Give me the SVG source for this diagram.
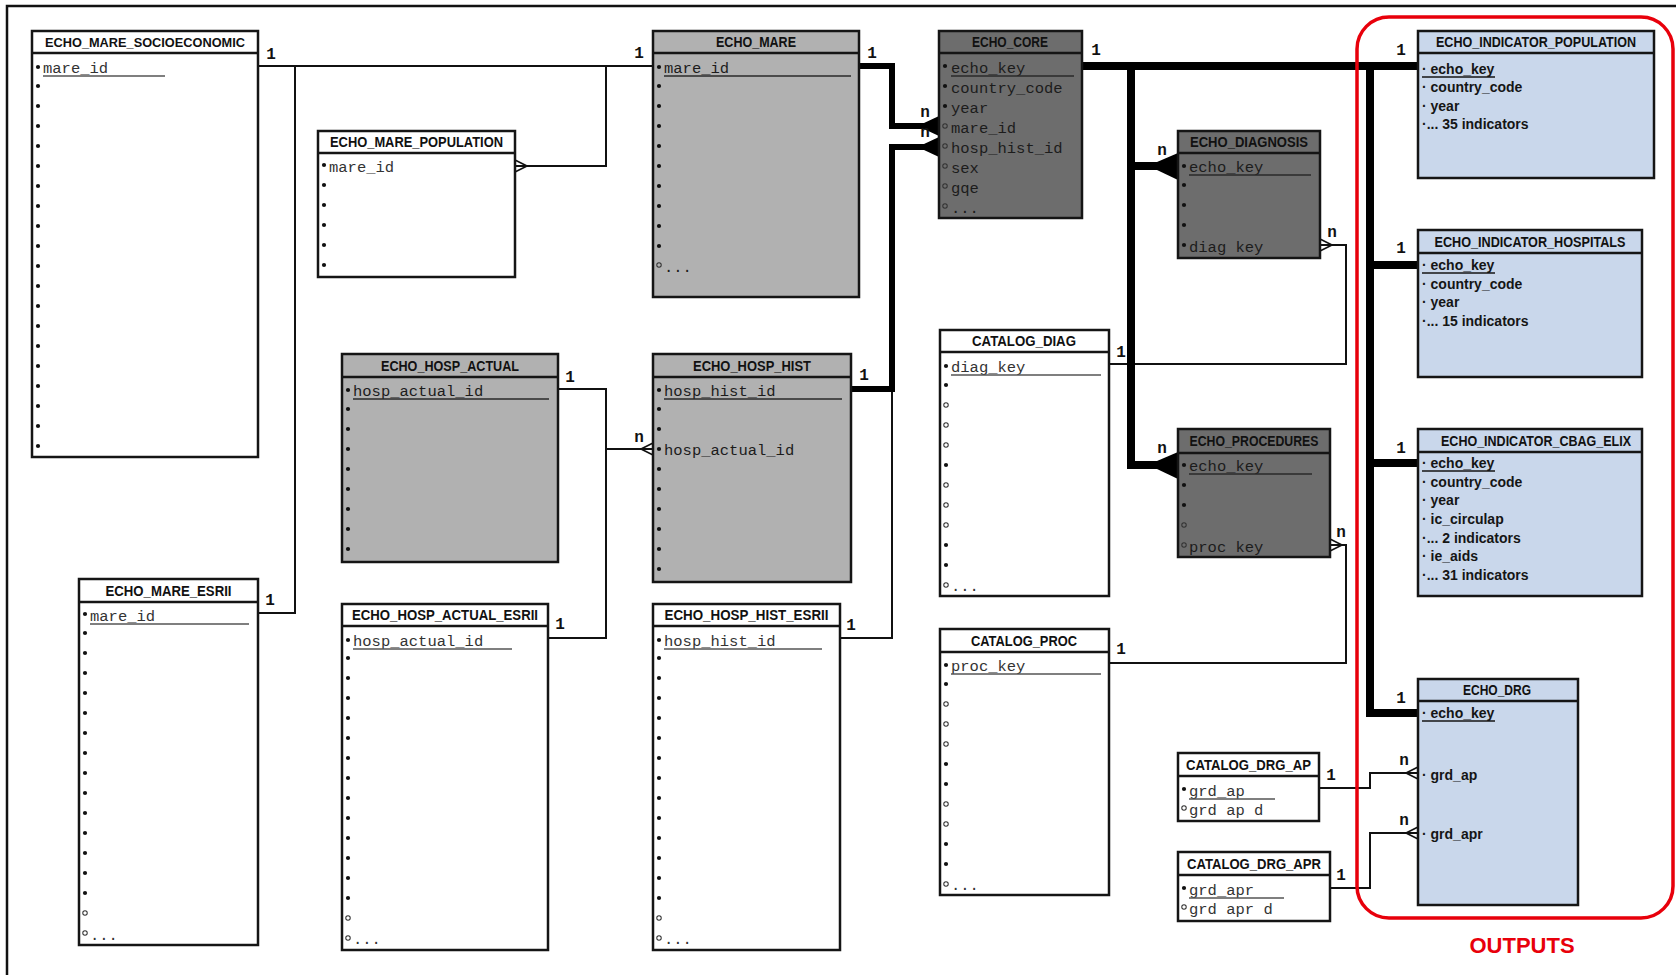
<svg xmlns="http://www.w3.org/2000/svg" xmlns:xlink="http://www.w3.org/1999/xlink" width="1676" height="975" viewBox="0 0 1676 975">
<style>
.box{stroke:#151515;stroke-width:2.5}
.w{fill:#fff}.g{fill:#b1b1b1}.d{fill:#6d6d6d}.b{fill:#c9d7eb}
.hl{stroke:#151515;stroke-width:2.5}
.hd{font-family:"Liberation Sans",Arial,sans-serif;font-weight:bold;font-size:14.5px;fill:#111;text-anchor:middle}
.f{font-family:"Liberation Mono","Courier New",monospace;font-size:15.5px;fill:#333}
.fd{font-family:"Liberation Mono","Courier New",monospace;font-size:15.5px;fill:#1c1c1c}
.bf{font-family:"Liberation Sans",Arial,sans-serif;font-weight:bold;font-size:14px;fill:#151515}
.ul{stroke:#555;stroke-width:1.3}
.uld{stroke:#2a2a2a;stroke-width:1.3}
.ulb{stroke:#151515;stroke-width:1.3}
.lbl{font-family:"Liberation Mono","Courier New",monospace;font-weight:bold;font-size:16px;fill:#111;text-anchor:middle}
.thin{stroke:#111;stroke-width:2;fill:none}
.thick{stroke:#000;stroke-width:6;fill:none}
.xthick{stroke:#000;stroke-width:8;fill:none}
.foot{fill:#000}
.ofoot{stroke:#111;stroke-width:1.6;fill:none}
</style>
<defs>
<circle id="dt" r="2.1" fill="#111"/>
<circle id="oc" r="2.2" fill="none" stroke="#333" stroke-width="1.1"/>
</defs>
<rect width="1676" height="975" fill="#fff"/>
<path d="M7,975 V6 H1676" fill="none" stroke="#111" stroke-width="2.5"/>

<g id="connectors">
<path class="thin" d="M258,66 H653"/>
<path class="thin" d="M295,66 V613 H258"/>
<path class="thin" d="M515,166 H606 V66"/>
<path class="thin" d="M558,389 H606 V638 H548"/>
<path class="thin" d="M606,449 H653"/>
<path class="thin" d="M840,638 H892 V389"/>
<path class="thin" d="M1320,245 H1346 V364 H1109"/>
<path class="thin" d="M1330,545 H1346 V663 H1109"/>
<path class="thin" d="M1319,788 H1370 V773 H1418"/>
<path class="thin" d="M1330,888 H1370 V833 H1418"/>
<path class="thick" d="M859,66 H892 V126 H930"/>
<path class="thick" d="M851,389 H892 V147 H930"/>
<path class="xthick" d="M1082,66 H1418"/>
<path class="xthick" d="M1131,66 V465 H1160"/>
<path class="xthick" d="M1131,166 H1160"/>
<path class="xthick" d="M1370,66 V713 H1418"/>
<path class="xthick" d="M1370,265 H1418"/>
<path class="xthick" d="M1370,463 H1418"/>
<polygon class="foot" points="924,123 939,116 939,136 924,129"/>
<polygon class="foot" points="924,144 939,137 939,157 924,150"/>
<polygon class="foot" points="1157,162 1178,153 1178,180 1157,170"/>
<polygon class="foot" points="1157,461 1178,452 1178,479 1157,469"/>
<path class="ofoot" d="M527,166 L515,160 M527,166 L515,172"/>
<path class="ofoot" d="M641,449 L653,443 M641,449 L653,455"/>
<path class="ofoot" d="M1332,245 L1320,239 M1332,245 L1320,251"/>
<path class="ofoot" d="M1342,545 L1330,539 M1342,545 L1330,551"/>
<path class="ofoot" d="M1406,773 L1418,767 M1406,773 L1418,779"/>
<path class="ofoot" d="M1406,833 L1418,827 M1406,833 L1418,839"/>
<g id="cardinalities">
<text class="lbl" x="271" y="59">1</text>
<text class="lbl" x="639" y="58">1</text>
<text class="lbl" x="872" y="58">1</text>
<text class="lbl" x="1096" y="55">1</text>
<text class="lbl" x="270" y="605">1</text>
<text class="lbl" x="570" y="382">1</text>
<text class="lbl" x="864" y="380">1</text>
<text class="lbl" x="560" y="629">1</text>
<text class="lbl" x="851" y="630">1</text>
<text class="lbl" x="1121" y="357">1</text>
<text class="lbl" x="1121" y="654">1</text>
<text class="lbl" x="1331" y="780">1</text>
<text class="lbl" x="1341" y="880">1</text>
<text class="lbl" x="1401" y="55">1</text>
<text class="lbl" x="1401" y="253">1</text>
<text class="lbl" x="1401" y="453">1</text>
<text class="lbl" x="1401" y="703">1</text>
<text class="lbl" x="925" y="117">n</text>
<text class="lbl" x="925" y="137">n</text>
<text class="lbl" x="1162" y="155">n</text>
<text class="lbl" x="1162" y="453">n</text>
<text class="lbl" x="1332" y="237">n</text>
<text class="lbl" x="1341" y="537">n</text>
<text class="lbl" x="639" y="442">n</text>
<text class="lbl" x="1404" y="765">n</text>
<text class="lbl" x="1404" y="825">n</text>
</g>
</g>

<g id="echo_mare_socioeconomic">
<rect class="box w" x="32" y="31" width="226" height="426"/>
<line class="hl" x1="32" y1="53" x2="258" y2="53"/>
<text class="hd" x="145" y="47" style="font-size:13px" textLength="200" lengthAdjust="spacingAndGlyphs">ECHO_MARE_SOCIOECONOMIC</text>
<use href="#dt" x="38" y="67"/><text class="f" x="43" y="73">mare_id</text><line class="ul" x1="43" y1="76" x2="165" y2="76"/>
<g transform="translate(38,0)"><use href="#dt" y="86"/><use href="#dt" y="106"/><use href="#dt" y="126"/><use href="#dt" y="146"/><use href="#dt" y="166"/><use href="#dt" y="186"/><use href="#dt" y="206"/><use href="#dt" y="226"/><use href="#dt" y="246"/><use href="#dt" y="266"/><use href="#dt" y="286"/><use href="#dt" y="306"/><use href="#dt" y="326"/><use href="#dt" y="346"/><use href="#dt" y="366"/><use href="#dt" y="386"/><use href="#dt" y="406"/><use href="#dt" y="426"/><use href="#dt" y="446"/></g>
</g>

<g id="echo_mare_population">
<rect class="box w" x="318" y="131" width="197" height="146"/>
<line class="hl" x1="318" y1="153" x2="515" y2="153"/>
<text class="hd" x="416.5" y="147" textLength="173" lengthAdjust="spacingAndGlyphs">ECHO_MARE_POPULATION</text>
<use href="#dt" x="324" y="165"/><text class="f" x="329" y="172">mare_id</text>
<g transform="translate(324,0)"><use href="#dt" y="185"/><use href="#dt" y="205"/><use href="#dt" y="225"/><use href="#dt" y="245"/><use href="#dt" y="265"/></g>
</g>

<g id="echo_mare">
<rect class="box g" x="653" y="31" width="206" height="266"/>
<line class="hl" x1="653" y1="53" x2="859" y2="53"/>
<text class="hd" x="756" y="47" textLength="80" lengthAdjust="spacingAndGlyphs">ECHO_MARE</text>
<use href="#dt" x="659" y="67"/><text class="fd" x="664" y="73">mare_id</text><line class="uld" x1="664" y1="76" x2="851" y2="76"/>
<g transform="translate(659,0)"><use href="#dt" y="86"/><use href="#dt" y="106"/><use href="#dt" y="126"/><use href="#dt" y="146"/><use href="#dt" y="166"/><use href="#dt" y="186"/><use href="#dt" y="206"/><use href="#dt" y="226"/><use href="#dt" y="246"/><use href="#oc" y="265"/></g>
<text class="fd" x="664" y="272">...</text>
</g>

<g id="echo_core">
<rect class="box d" x="939" y="31" width="143" height="187"/>
<line class="hl" x1="939" y1="53" x2="1082" y2="53"/>
<text class="hd" x="1010" y="47" textLength="76" lengthAdjust="spacingAndGlyphs">ECHO_CORE</text>
<g transform="translate(945,0)"><use href="#dt" y="66"/><use href="#dt" y="86"/><use href="#dt" y="106"/><use href="#oc" y="126"/><use href="#oc" y="146"/><use href="#oc" y="166"/><use href="#oc" y="186"/><use href="#oc" y="206"/></g>
<text class="fd" x="951" y="73">echo_key</text><line class="uld" x1="951" y1="76" x2="1074" y2="76"/>
<text class="fd" x="951" y="93">country_code</text>
<text class="fd" x="951" y="113">year</text>
<text class="fd" x="951" y="133">mare_id</text>
<text class="fd" x="951" y="153">hosp_hist_id</text>
<text class="fd" x="951" y="173">sex</text>
<text class="fd" x="951" y="193">gqe</text>
<text class="fd" x="951" y="213">...</text>
</g>

<g id="echo_diagnosis">
<rect class="box d" x="1178" y="131" width="142" height="127"/>
<line class="hl" x1="1178" y1="153" x2="1320" y2="153"/>
<text class="hd" x="1249" y="147" textLength="118" lengthAdjust="spacingAndGlyphs">ECHO_DIAGNOSIS</text>
<g transform="translate(1184,0)"><use href="#dt" y="166"/><use href="#dt" y="185"/><use href="#dt" y="205"/><use href="#dt" y="225"/><use href="#dt" y="245"/></g>
<text class="fd" x="1189" y="172">echo_key</text><line class="uld" x1="1189" y1="175" x2="1311" y2="175"/>
<text class="fd" x="1189" y="252">diag key</text>
</g>

<g id="echo_procedures">
<rect class="box d" x="1178" y="429" width="152" height="128"/>
<line class="hl" x1="1178" y1="453" x2="1330" y2="453"/>
<text class="hd" x="1254" y="446" textLength="129" lengthAdjust="spacingAndGlyphs">ECHO_PROCEDURES</text>
<g transform="translate(1184,0)"><use href="#dt" y="465"/><use href="#dt" y="485"/><use href="#dt" y="505"/><use href="#oc" y="525"/><use href="#oc" y="545"/></g>
<text class="fd" x="1189" y="471">echo_key</text><line class="uld" x1="1189" y1="474" x2="1312" y2="474"/>
<text class="fd" x="1189" y="552">proc key</text>
</g>

<g id="catalog_diag">
<rect class="box w" x="940" y="330" width="169" height="266"/>
<line class="hl" x1="940" y1="352" x2="1109" y2="352"/>
<text class="hd" x="1024" y="346" textLength="104" lengthAdjust="spacingAndGlyphs">CATALOG_DIAG</text>
<g transform="translate(946,0)"><use href="#dt" y="366"/><use href="#dt" y="385"/><use href="#oc" y="405"/><use href="#oc" y="425"/><use href="#oc" y="445"/><use href="#dt" y="465"/><use href="#oc" y="485"/><use href="#oc" y="505"/><use href="#oc" y="525"/><use href="#dt" y="545"/><use href="#dt" y="565"/><use href="#oc" y="585"/></g>
<text class="f" x="951" y="372">diag_key</text><line class="ul" x1="951" y1="375" x2="1101" y2="375"/>
<text class="f" x="951" y="591">...</text>
</g>

<g id="catalog_proc">
<rect class="box w" x="940" y="629" width="169" height="266"/>
<line class="hl" x1="940" y1="652" x2="1109" y2="652"/>
<text class="hd" x="1024" y="646" textLength="106" lengthAdjust="spacingAndGlyphs">CATALOG_PROC</text>
<g transform="translate(946,0)"><use href="#dt" y="665"/><use href="#dt" y="684"/><use href="#oc" y="704"/><use href="#oc" y="724"/><use href="#oc" y="744"/><use href="#dt" y="764"/><use href="#dt" y="784"/><use href="#oc" y="804"/><use href="#oc" y="824"/><use href="#dt" y="844"/><use href="#dt" y="864"/><use href="#oc" y="884"/></g>
<text class="f" x="951" y="671">proc_key</text><line class="ul" x1="951" y1="674" x2="1101" y2="674"/>
<text class="f" x="951" y="890">...</text>
</g>

<g id="catalog_drg_ap">
<rect class="box w" x="1178" y="753" width="141" height="68"/>
<line class="hl" x1="1178" y1="776" x2="1319" y2="776"/>
<text class="hd" x="1248.5" y="770" textLength="125" lengthAdjust="spacingAndGlyphs">CATALOG_DRG_AP</text>
<use href="#dt" x="1184" y="789"/><text class="f" x="1189" y="796">grd_ap</text><line class="ul" x1="1189" y1="799" x2="1275" y2="799"/>
<use href="#oc" x="1184" y="808"/><text class="f" x="1189" y="815">grd ap d</text>
</g>

<g id="catalog_drg_apr">
<rect class="box w" x="1178" y="852" width="152" height="69"/>
<line class="hl" x1="1178" y1="875" x2="1330" y2="875"/>
<text class="hd" x="1254" y="869" textLength="134" lengthAdjust="spacingAndGlyphs">CATALOG_DRG_APR</text>
<use href="#dt" x="1184" y="888"/><text class="f" x="1189" y="895">grd_apr</text><line class="ul" x1="1189" y1="898" x2="1284" y2="898"/>
<use href="#oc" x="1184" y="907"/><text class="f" x="1189" y="914">grd apr d</text>
</g>

<g id="echo_hosp_actual">
<rect class="box g" x="342" y="354" width="216" height="208"/>
<line class="hl" x1="342" y1="377" x2="558" y2="377"/>
<text class="hd" x="450" y="371" textLength="138" lengthAdjust="spacingAndGlyphs">ECHO_HOSP_ACTUAL</text>
<use href="#dt" x="348" y="390"/><text class="fd" x="353" y="396">hosp_actual_id</text><line class="uld" x1="353" y1="399" x2="549" y2="399"/>
<g transform="translate(348,0)"><use href="#dt" y="409"/><use href="#dt" y="429"/><use href="#dt" y="449"/><use href="#dt" y="469"/><use href="#dt" y="489"/><use href="#dt" y="509"/><use href="#dt" y="529"/><use href="#dt" y="549"/></g>
</g>

<g id="echo_hosp_hist">
<rect class="box g" x="653" y="354" width="198" height="228"/>
<line class="hl" x1="653" y1="377" x2="851" y2="377"/>
<text class="hd" x="752" y="371" textLength="118" lengthAdjust="spacingAndGlyphs">ECHO_HOSP_HIST</text>
<use href="#dt" x="659" y="390"/><text class="fd" x="664" y="396">hosp_hist_id</text><line class="uld" x1="664" y1="399" x2="842" y2="399"/>
<g transform="translate(659,0)"><use href="#dt" y="409"/><use href="#dt" y="429"/><use href="#dt" y="449"/><use href="#dt" y="469"/><use href="#dt" y="489"/><use href="#dt" y="509"/><use href="#dt" y="529"/><use href="#dt" y="549"/><use href="#dt" y="569"/></g>
<text class="fd" x="664" y="455">hosp_actual_id</text>
</g>

<g id="echo_mare_esrii">
<rect class="box w" x="79" y="579" width="179" height="366"/>
<line class="hl" x1="79" y1="602" x2="258" y2="602"/>
<text class="hd" x="168.5" y="596" textLength="126" lengthAdjust="spacingAndGlyphs">ECHO_MARE_ESRII</text>
<use href="#dt" x="85" y="614"/><text class="f" x="90" y="621">mare_id</text><line class="ul" x1="90" y1="624" x2="249" y2="624"/>
<g transform="translate(85,0)"><use href="#dt" y="633"/><use href="#dt" y="653"/><use href="#dt" y="673"/><use href="#dt" y="693"/><use href="#dt" y="713"/><use href="#dt" y="733"/><use href="#dt" y="753"/><use href="#dt" y="773"/><use href="#dt" y="793"/><use href="#dt" y="813"/><use href="#dt" y="833"/><use href="#dt" y="853"/><use href="#dt" y="873"/><use href="#dt" y="893"/><use href="#oc" y="913"/><use href="#oc" y="933"/></g>
<text class="f" x="90" y="940">...</text>
</g>

<g id="echo_hosp_actual_esrii">
<rect class="box w" x="342" y="604" width="206" height="346"/>
<line class="hl" x1="342" y1="626" x2="548" y2="626"/>
<text class="hd" x="445" y="620" textLength="186" lengthAdjust="spacingAndGlyphs">ECHO_HOSP_ACTUAL_ESRII</text>
<use href="#dt" x="348" y="640"/><text class="f" x="353" y="646">hosp_actual_id</text><line class="ul" x1="353" y1="649" x2="512" y2="649"/>
<g transform="translate(348,0)"><use href="#dt" y="658"/><use href="#dt" y="678"/><use href="#dt" y="698"/><use href="#dt" y="718"/><use href="#dt" y="738"/><use href="#dt" y="758"/><use href="#dt" y="778"/><use href="#dt" y="798"/><use href="#dt" y="818"/><use href="#dt" y="838"/><use href="#dt" y="858"/><use href="#dt" y="878"/><use href="#dt" y="898"/><use href="#oc" y="918"/><use href="#oc" y="938"/></g>
<text class="f" x="353" y="944">...</text>
</g>

<g id="echo_hosp_hist_esrii">
<rect class="box w" x="653" y="604" width="187" height="346"/>
<line class="hl" x1="653" y1="626" x2="840" y2="626"/>
<text class="hd" x="746.5" y="620" textLength="164" lengthAdjust="spacingAndGlyphs">ECHO_HOSP_HIST_ESRII</text>
<use href="#dt" x="659" y="640"/><text class="f" x="664" y="646">hosp_hist_id</text><line class="ul" x1="664" y1="649" x2="822" y2="649"/>
<g transform="translate(659,0)"><use href="#dt" y="658"/><use href="#dt" y="678"/><use href="#dt" y="698"/><use href="#dt" y="718"/><use href="#dt" y="738"/><use href="#dt" y="758"/><use href="#dt" y="778"/><use href="#dt" y="798"/><use href="#dt" y="818"/><use href="#dt" y="838"/><use href="#dt" y="858"/><use href="#dt" y="878"/><use href="#dt" y="898"/><use href="#oc" y="918"/><use href="#oc" y="938"/></g>
<text class="f" x="664" y="944">...</text>
</g>

<g id="echo_indicator_population">
<rect class="box b" x="1418" y="31" width="236" height="147"/>
<line class="hl" x1="1418" y1="53" x2="1654" y2="53"/>
<text class="hd" x="1536" y="47" textLength="200" lengthAdjust="spacingAndGlyphs">ECHO_INDICATOR_POPULATION</text>
<text class="bf" x="1422" y="74">· echo_key</text><line class="ulb" x1="1422" y1="77" x2="1495" y2="77"/>
<text class="bf" x="1422" y="92">· country_code</text>
<text class="bf" x="1422" y="111">· year</text>
<text class="bf" x="1422" y="129">·... 35 indicators</text>
</g>

<g id="echo_indicator_hospitals">
<rect class="box b" x="1418" y="230" width="224" height="147"/>
<line class="hl" x1="1418" y1="253" x2="1642" y2="253"/>
<text class="hd" x="1530" y="247" textLength="191" lengthAdjust="spacingAndGlyphs">ECHO_INDICATOR_HOSPITALS</text>
<text class="bf" x="1422" y="270">· echo_key</text><line class="ulb" x1="1422" y1="273" x2="1495" y2="273"/>
<text class="bf" x="1422" y="289">· country_code</text>
<text class="bf" x="1422" y="307">· year</text>
<text class="bf" x="1422" y="326">·... 15 indicators</text>
</g>

<g id="echo_indicator_cbag_elix">
<rect class="box b" x="1418" y="429" width="224" height="167"/>
<line class="hl" x1="1418" y1="452" x2="1642" y2="452"/>
<text class="hd" x="1536" y="446" textLength="190" lengthAdjust="spacingAndGlyphs">ECHO_INDICATOR_CBAG_ELIX</text>
<text class="bf" x="1422" y="468">· echo_key</text><line class="ulb" x1="1422" y1="471" x2="1495" y2="471"/>
<text class="bf" x="1422" y="487">· country_code</text>
<text class="bf" x="1422" y="505">· year</text>
<text class="bf" x="1422" y="524">· ic_circulap</text>
<text class="bf" x="1422" y="543">·... 2 indicators</text>
<text class="bf" x="1422" y="561">· ie_aids</text>
<text class="bf" x="1422" y="580">·... 31 indicators</text>
</g>

<g id="echo_drg">
<rect class="box b" x="1418" y="679" width="160" height="226"/>
<line class="hl" x1="1418" y1="701" x2="1578" y2="701"/>
<text class="hd" x="1497" y="695" textLength="68" lengthAdjust="spacingAndGlyphs">ECHO_DRG</text>
<text class="bf" x="1422" y="718">· echo_key</text><line class="ulb" x1="1422" y1="721" x2="1495" y2="721"/>
<text class="bf" x="1422" y="780">· grd_ap</text>
<text class="bf" x="1422" y="839">· grd_apr</text>
</g>

<g id="outputs">
<rect x="1357" y="17" width="316" height="901" rx="32" ry="32" fill="none" stroke="#e8000b" stroke-width="3.5"/>
<text x="1522" y="953" font-family="Liberation Sans,Arial,sans-serif" font-weight="bold" font-size="22" fill="#e8000b" text-anchor="middle">OUTPUTS</text>
</g>
</svg>
